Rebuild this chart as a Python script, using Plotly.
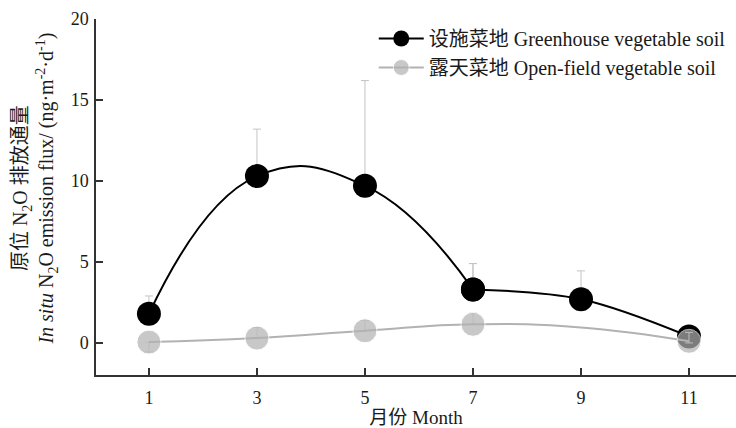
import plotly.graph_objects as go

months = [1, 3, 5, 7, 9, 11]
greenhouse = [1.8, 10.3, 9.7, 3.3, 2.7, 0.4]
greenhouse_err_up = [1.1, 2.9, 6.5, 1.6, 1.75, 0.2]
openfield = [0.05, 0.3, 0.75, 1.15, 0.95, 0.1]
openfield_err_up = [0.0, 0.65, 0.65, 0.7, 0.0, 0.55]
openfield_err_down = [0.6, 0.0, 0.0, 0.0, 0.0, 0.1]
openfield_marker_size = [24, 24, 24, 24, 0, 24]

name_gh = "设施菜地 Greenhouse vegetable soil"
name_of = "露天菜地 Open-field vegetable soil"
x_ticks = [1, 3, 5, 7, 9, 11]
y_ticks = [0, 5, 10, 15, 20]
y_title = ("原位 N<sub>2</sub>O 排放通量<br><i>In situ</i> N<sub>2</sub>O emission flux/ "
           "(ng·m<sup>-2</sup>·d<sup>-1</sup>)")

FONT = "Liberation Serif, Times New Roman, Noto Sans CJK SC, serif"
ERR_COLOR = "#c4c4c4"
BLACK = "#000000"
GRAY = "#b3b1b1"

fig = go.Figure()
# greenhouse curve drawn in two spline pieces joined under the marker at month 7
split = 3
fig.add_trace(go.Scatter(
    x=months[:split + 1], y=greenhouse[:split + 1], name=name_gh, legendgroup="gh",
    mode="lines+markers",
    line=dict(color=BLACK, width=2, shape="spline", smoothing=1.3),
    marker=dict(color=BLACK, size=24),
    error_y=dict(type="data", array=greenhouse_err_up[:split + 1], arrayminus=[0]*(split + 1),
                 symmetric=False, color=ERR_COLOR, thickness=1, width=4),
))
fig.add_trace(go.Scatter(
    x=months[split:], y=greenhouse[split:], name=name_gh, legendgroup="gh",
    showlegend=False, mode="lines+markers",
    line=dict(color=BLACK, width=2, shape="spline", smoothing=1.0),
    marker=dict(color=BLACK, size=24),
    error_y=dict(type="data", array=greenhouse_err_up[split:], arrayminus=[0]*(len(months) - split),
                 symmetric=False, color=ERR_COLOR, thickness=1, width=4),
))
fig.add_trace(go.Scatter(
    x=months, y=openfield, name=name_of, mode="lines+markers",
    line=dict(color=GRAY, width=2, shape="spline", smoothing=1.3),
    marker=dict(color=GRAY, size=openfield_marker_size),
    error_y=dict(type="data", array=openfield_err_up, arrayminus=openfield_err_down,
                 symmetric=False, color="#d8d8d8", thickness=1, width=4),
))

fig.update_layout(
    width=736, height=428,
    margin=dict(l=96, r=0, t=19, b=53),
    paper_bgcolor="white", plot_bgcolor="white",
    font=dict(family=FONT, size=18, color="#1a1a1a"),
    showlegend=True,
    legend=dict(x=0.434, y=1.0, xanchor="left", yanchor="top",
                font=dict(family=FONT, size=20, color="#1a1a1a"),
                bgcolor="rgba(0,0,0,0)", tracegroupgap=0, itemwidth=45),
    annotations=[dict(
        text=y_title, textangle=-90, showarrow=False,
        xref="paper", yref="paper", x=0, y=0.525, xanchor="right", yanchor="middle",
        xshift=-34, font=dict(family=FONT, size=20, color="#1a1a1a"),
    )],
)
fig.update_xaxes(
    range=[0.02, 11.87], tickvals=x_ticks, ticktext=[str(v) for v in x_ticks],
    showgrid=False, zeroline=False, showline=True, linecolor="#333333", linewidth=1.5,
    ticks="inside", ticklen=7, tickwidth=1.5, tickcolor="#333333",
    tickfont=dict(size=18), ticklabelstandoff=6,
    title=dict(text="月份 Month", font=dict(size=19), standoff=2),
)
fig.update_yaxes(
    range=[-1.98, 20], tickvals=y_ticks, ticktext=[str(v) for v in y_ticks],
    showgrid=False, zeroline=False, showline=True, linecolor="#333333", linewidth=1.5,
    ticks="inside", ticklen=7, tickwidth=1.5, tickcolor="#333333",
    tickfont=dict(size=18), ticklabelstandoff=2,
)

fig.write_html("out.html")
